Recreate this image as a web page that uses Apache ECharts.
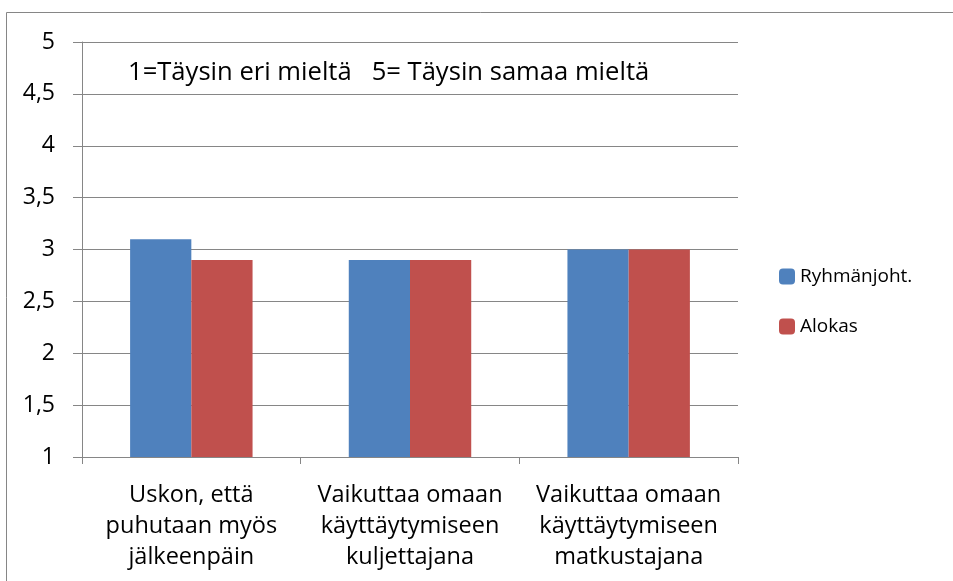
<!DOCTYPE html>
<html><head><meta charset="utf-8">
<script src="https://cdn.jsdelivr.net/npm/echarts@6/dist/echarts.min.js"></script>
<style>html,body{margin:0;padding:0;background:#fff}#c{width:953px;height:581px}</style>
</head><body><div id="c"></div>
<script>
const categories = ["Uskon, että\npuhutaan myös\njälkeenpäin", "Vaikuttaa omaan\nkäyttäytymiseen\nkuljettajana", "Vaikuttaa omaan\nkäyttäytymiseen\nmatkustajana"];
const seriesNames = ["Ryhmänjoht.", "Alokas"];
const ryhmanjoht = [3.1, 2.9, 3.0];
const alokas = [2.9, 2.9, 3.0];
const noteText = "1=Täysin eri mieltä   5= Täysin samaa mieltä";
const FONT = "'Open Sans', 'Liberation Sans', sans-serif";
const chart = echarts.init(document.getElementById('c'));
chart.setOption({
  animation: false,
  textStyle: {fontFamily: FONT},
  graphic: [{type: 'rect', shape: {x: 6.5, y: 12.5, width: 1200, height: 1200}, style: {fill: 'none', stroke: '#868686', lineWidth: 1}, silent: true}],
  title: {text: noteText, left: 128, top: 60, padding: 0, textStyle: {fontFamily: FONT, fontSize: 25.6, lineHeight: 26, fontWeight: 'normal', color: '#000'}},
  legend: {
    orient: 'vertical', left: 774, top: 262, itemWidth: 16, itemHeight: 16, itemGap: 31,
    data: seriesNames, textStyle: {fontFamily: FONT, fontSize: 19, color: '#000'}
  },
  grid: {left: 82, right: 215, top: 42, bottom: 124, containLabel: false},
  xAxis: {
    type: 'category', data: categories,
    axisLine: {lineStyle: {color: '#868686', width: 1}},
    axisTick: {show: true, length: 7, lineStyle: {color: '#868686'}},
    axisLabel: {interval: 0, fontFamily: FONT, fontSize: 23.5, color: '#000', lineHeight: 31, margin: 23}
  },
  yAxis: {
    type: 'value', min: 1, max: 5, interval: 0.5,
    axisLine: {show: true, lineStyle: {color: '#868686', width: 1}},
    axisTick: {show: true, length: 9, lineStyle: {color: '#868686'}},
    splitLine: {lineStyle: {color: '#868686', width: 1}},
    axisLabel: {fontFamily: FONT, fontSize: 23, color: '#000', margin: 27, formatter: v => String(v).replace('.', ',')}
  },
  series: [
    {name: seriesNames[0], type: 'bar', data: ryhmanjoht, itemStyle: {color: '#4F81BD'}, barGap: '0%', barCategoryGap: '44%'},
    {name: seriesNames[1], type: 'bar', data: alokas, itemStyle: {color: '#C0504D'}, barGap: '0%', barCategoryGap: '44%'}
  ]
});
</script></body></html>
